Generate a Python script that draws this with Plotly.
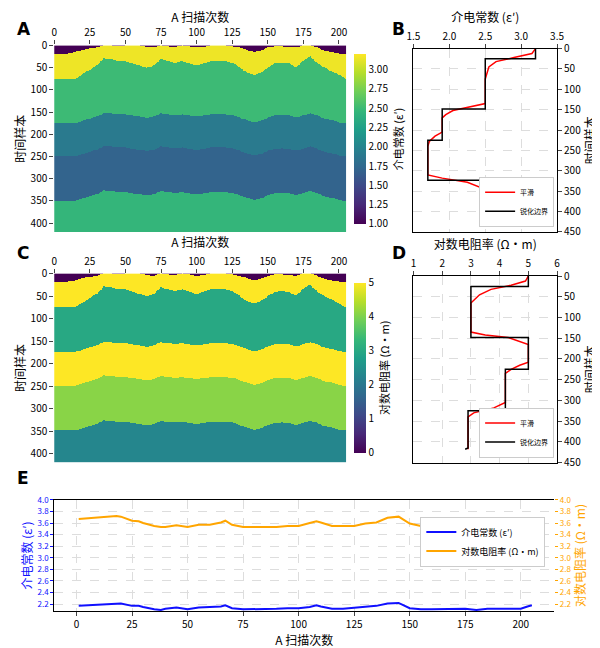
import numpy as np
import plotly.graph_objects as go

FONT = "Noto Sans CJK SC"

# boundary depths (time samples) of the layers, read every 5 scans
scan_x = [0, 5, 10, 15, 20, 25, 30, 35, 40, 45, 50, 55, 60, 65, 70, 75, 80, 85, 90, 95, 100,
          105, 110, 115, 120, 125, 130, 135, 140, 145, 150, 155, 160, 165, 170, 175, 180, 185,
          190, 195, 200, 205]
b1 = [20, 20, 18, 15, 10, 7, 5, 0, 0, 2, 0, 0, 0, 3, 5, 0, 2, 3, 0, 2, 5, 3, 0, 0, 0, 2, 5, 10,
      15, 12, 5, 2, 2, 3, 5, 0, 0, 5, 12, 15, 18, 20]
b2 = [75, 75, 75, 75, 65, 55, 45, 29, 31, 35, 35, 41, 45, 51, 45, 31, 35, 39, 35, 41, 45, 41,
      35, 35, 35, 39, 49, 61, 66, 62, 51, 41, 39, 41, 49, 35, 25, 41, 50, 58, 66, 75]
b3 = [175, 175, 175, 175, 170, 165, 160, 152, 153, 155, 155, 158, 160, 163, 160, 153, 155,
      157, 155, 158, 160, 158, 155, 155, 155, 157, 162, 168, 173, 170, 163, 158, 157, 158, 162,
      158, 153, 158, 165, 168, 173, 175]
b4 = [250, 250, 250, 250, 245, 240, 235, 227, 228, 230, 230, 233, 235, 238, 235, 228, 230,
      232, 230, 233, 235, 233, 230, 230, 230, 232, 237, 243, 248, 245, 238, 233, 232, 233, 237,
      233, 228, 233, 240, 243, 248, 250]
b5 = [350, 350, 350, 350, 345, 340, 335, 327, 328, 330, 330, 333, 335, 338, 335, 328, 330,
      332, 330, 333, 335, 333, 330, 330, 330, 332, 337, 343, 348, 345, 338, 333, 332, 333, 337,
      333, 328, 333, 340, 343, 348, 350]

eps_layers = [1.0, 3.15, 2.5, 1.9, 1.7, 2.45]
res_layers = [0.0, 5.0, 3.0, 5.0, 4.1, 2.3]

# profile B
eps_step_v = [3.2, 3.2, 2.5, 2.5, 1.9, 1.9, 1.7, 1.7, 2.45, 2.45]
eps_step_d = [0, 25, 25, 148, 148, 225, 225, 323, 323, 420]
eps_smooth_v = [3.2, 3.15, 2.9, 2.65, 2.55, 2.52, 2.5, 2.5, 2.3, 2.05, 1.95, 1.9, 1.9, 1.8,
                1.72, 1.7, 1.7, 1.9, 2.25, 2.42, 2.45, 2.45]
eps_smooth_d = [0, 12, 22, 32, 45, 60, 75, 135, 143, 152, 162, 170, 205, 215, 228, 240, 310,
                318, 328, 340, 350, 420]

# profile D
res_step_v = [5, 5, 3, 3, 5, 5, 4.2, 4.2, 2.9, 2.9, 2.8]
res_step_d = [0, 25, 25, 148, 148, 225, 225, 325, 325, 415, 418]
res_smooth_v = [5, 4.9, 4.4, 3.7, 3.3, 3.1, 3.0, 3.0, 3.5, 4.3, 4.7, 5, 5, 4.7, 4.4, 4.2, 4.2,
                3.8, 3.1, 2.9, 2.9]
res_smooth_d = [0, 12, 22, 32, 45, 60, 65, 135, 142, 148, 158, 165, 208, 215, 225, 235, 305,
                318, 330, 340, 418]

# panel E
e_x = [1, 5, 10, 15, 18, 20, 25, 28, 30, 35, 38, 40, 45, 50, 55, 60, 65, 67, 70, 75, 80, 85,
       90, 95, 100, 105, 108, 110, 115, 120, 125, 130, 135, 140, 145, 150, 155, 160, 165, 170,
       175, 180, 185, 190, 195, 200, 203, 205]
e_res = [3.67, 3.68, 3.70, 3.70, 3.72, 3.71, 3.64, 3.63, 3.60, 3.55, 3.53, 3.53, 3.56, 3.53,
         3.57, 3.57, 3.61, 3.64, 3.57, 3.53, 3.53, 3.54, 3.53, 3.55, 3.55, 3.60, 3.63, 3.61,
         3.55, 3.55, 3.55, 3.59, 3.61, 3.69, 3.71, 3.59, 3.55, 3.55, 3.55, 3.56, 3.56, 3.53,
         3.55, 3.55, 3.55, 3.55, 3.62, 3.63]
e_eps = [2.17, 2.18, 2.19, 2.20, 2.21, 2.21, 2.17, 2.17, 2.15, 2.11, 2.10, 2.12, 2.14, 2.11,
         2.14, 2.15, 2.16, 2.18, 2.13, 2.11, 2.11, 2.12, 2.12, 2.13, 2.13, 2.15, 2.18, 2.16,
         2.12, 2.12, 2.14, 2.15, 2.17, 2.21, 2.22, 2.13, 2.11, 2.11, 2.11, 2.12, 2.12, 2.10,
         2.12, 2.12, 2.12, 2.12, 2.16, 2.18]

# build layered grids
cols = np.arange(0, 206)
rows = np.arange(0, 421)
bounds = [np.interp(cols, scan_x, b) for b in (b1, b2, b3, b4, b5)]
idx = np.zeros((len(rows), len(cols)), dtype=int)
for b in bounds:
    idx += (rows[:, None] >= b[None, :]).astype(int)
z_eps = np.array(eps_layers)[idx]
z_res = np.array(res_layers)[idx]

fig = go.Figure()

fig.add_trace(go.Heatmap(x=cols, y=rows, z=z_eps, colorscale="Viridis", zmin=1, zmax=3.2,
                         xaxis="x", yaxis="y",
                         colorbar=dict(x=0.578, y=0.807, len=0.3, thickness=12, xpad=0,
                                       tickvals=[1, 1.25, 1.5, 1.75, 2, 2.25, 2.5, 2.75, 3],
                                       ticktext=["1.00", "1.25", "1.50", "1.75", "2.00", "2.25", "2.50", "2.75", "3.00"],
                                       tickfont=dict(size=10),
                                       title=dict(text="介电常数 (ε′)", side="right", font=dict(size=11)))))
fig.add_trace(go.Heatmap(x=cols, y=rows, z=z_res, colorscale="Viridis", zmin=0, zmax=5,
                         xaxis="x3", yaxis="y3",
                         colorbar=dict(x=0.578, y=0.445, len=0.3, thickness=12, xpad=0,
                                       tickvals=[0, 1, 2, 3, 4, 5], tickfont=dict(size=10),
                                       title=dict(text="对数电阻率 (Ω·m)", side="right", font=dict(size=11)))))

fig.add_trace(go.Scatter(x=eps_smooth_v, y=eps_smooth_d, mode="lines", name="平滑",
                         line=dict(color="red", width=1.5), xaxis="x2", yaxis="y2", legend="legend"))
fig.add_trace(go.Scatter(x=eps_step_v, y=eps_step_d, mode="lines", name="锐化边界",
                         line=dict(color="black", width=1.5), xaxis="x2", yaxis="y2", legend="legend"))
fig.add_trace(go.Scatter(x=res_smooth_v, y=res_smooth_d, mode="lines", name="平滑",
                         line=dict(color="red", width=1.5), xaxis="x4", yaxis="y4", legend="legend2"))
fig.add_trace(go.Scatter(x=res_step_v, y=res_step_d, mode="lines", name="锐化边界",
                         line=dict(color="black", width=1.5), xaxis="x4", yaxis="y4", legend="legend2"))

fig.add_trace(go.Scatter(x=e_x, y=e_eps, mode="lines", name="介电常数 (ε′)",
                         line=dict(color="#1010ff", width=2), xaxis="x5", yaxis="y5", legend="legend3"))
fig.add_trace(go.Scatter(x=e_x, y=e_res, mode="lines", name="对数电阻率 (Ω·m)",
                         line=dict(color="orange", width=2), xaxis="x5", yaxis="y6", legend="legend3"))

heat_x = dict(side="top", range=[0, 205], tickvals=list(range(0, 201, 25)), ticks="outside",
              ticklen=4, showgrid=False, zeroline=False, tickfont=dict(size=10))
heat_y = dict(autorange=False, range=[420, 0], tickvals=list(range(0, 401, 50)), ticks="outside",
              ticklen=4, showgrid=False, zeroline=False, tickfont=dict(size=10),
              title=dict(text="时间样本", font=dict(size=12), standoff=2))
prof_x = dict(side="top", ticks="outside", ticklen=4, showgrid=True, gridcolor="#ddd",
              griddash="dash", zeroline=False, showline=True, mirror=True, linecolor="black",
              tickfont=dict(size=10))
prof_y = dict(side="right", range=[450, 0], tickvals=list(range(0, 451, 50)), ticks="outside",
              ticklen=4, showgrid=True, gridcolor="#ddd", griddash="dash", zeroline=False,
              showline=True, mirror=True, linecolor="black", tickfont=dict(size=10),
              title=dict(text="时间样本", font=dict(size=12), standoff=2))

grid = dict(showgrid=True, gridcolor="#ddd", griddash="dash", zeroline=False)
small_leg = dict(xanchor="right", yanchor="bottom", bgcolor="white", bordercolor="#ccc",
                 borderwidth=1, font=dict(size=7), itemwidth=30, tracegroupgap=0)

fig.update_layout(
    width=600, height=648, plot_bgcolor="white", paper_bgcolor="white",
    font=dict(family=FONT, size=11, color="black"),
    margin=dict(l=0, r=0, t=0, b=0),
    xaxis=dict(heat_x, domain=[0.067, 0.565], anchor="y",
               title=dict(text="A 扫描次数", font=dict(size=12), standoff=2)),
    yaxis=dict(heat_y, domain=[0.66, 0.955], anchor="x"),
    xaxis2=dict(prof_x, domain=[0.68, 0.925], anchor="y2", range=[1.5, 3.5], dtick=0.5,
                tickformat=".1f", title=dict(text="介电常数 (ε′)", font=dict(size=12), standoff=2)),
    yaxis2=dict(prof_y, domain=[0.66, 0.95], anchor="x2"),
    xaxis3=dict(heat_x, domain=[0.067, 0.565], anchor="y3",
                title=dict(text="A 扫描次数", font=dict(size=12), standoff=2)),
    yaxis3=dict(heat_y, domain=[0.295, 0.594], anchor="x3"),
    xaxis4=dict(prof_x, domain=[0.68, 0.925], anchor="y4", range=[1, 6], dtick=1,
                title=dict(text="对数电阻率 (Ω·m)", font=dict(size=12), standoff=2)),
    yaxis4=dict(prof_y, domain=[0.295, 0.59], anchor="x4"),
    xaxis5=dict(grid, domain=[0.067, 0.92], anchor="y5", range=[-10, 215],
                tickvals=list(range(0, 201, 25)), ticks="outside", ticklen=4,
                showline=True, mirror=True, linecolor="black", tickfont=dict(size=10),
                title=dict(text="A 扫描次数", font=dict(size=12), standoff=2)),
    yaxis5=dict(grid, domain=[0.06, 0.236], anchor="x5", range=[2.08, 4.0], dtick=0.2,
                tickformat=".1f", ticks="outside", ticklen=3, showline=True, linecolor="black",
                color="#1010ff", tickfont=dict(size=8),
                title=dict(text="介电常数 (ε′)", font=dict(size=12, color="#1010ff"), standoff=2)),
    yaxis6=dict(overlaying="y5", side="right", anchor="x5", range=[2.08, 4.0], dtick=0.2,
                tickformat=".1f", ticks="outside", ticklen=3, showgrid=False, zeroline=False,
                color="orange", tickfont=dict(size=8),
                title=dict(text="对数电阻率 (Ω·m)", font=dict(size=12, color="orange"), standoff=2)),
    legend=dict(small_leg, x=0.92, y=0.668),
    legend2=dict(small_leg, x=0.92, y=0.303),
    legend3=dict(x=0.905, y=0.17, xanchor="right", yanchor="middle", bgcolor="white",
                 bordercolor="#ccc", borderwidth=1, font=dict(size=9), itemwidth=30,
                 tracegroupgap=0),
)

for txt, x, y in [("A", 0.0, 1.0), ("B", 0.64, 1.0), ("C", 0.0, 0.645),
                  ("D", 0.64, 0.645), ("E", 0.0, 0.29)]:
    fig.add_annotation(text=f"<b>{txt}</b>", x=x, y=y, xref="paper", yref="paper",
                       xanchor="left", yanchor="top", showarrow=False,
                       font=dict(size=17, family="DejaVu Sans", color="black"))

fig.write_html("out.html")
